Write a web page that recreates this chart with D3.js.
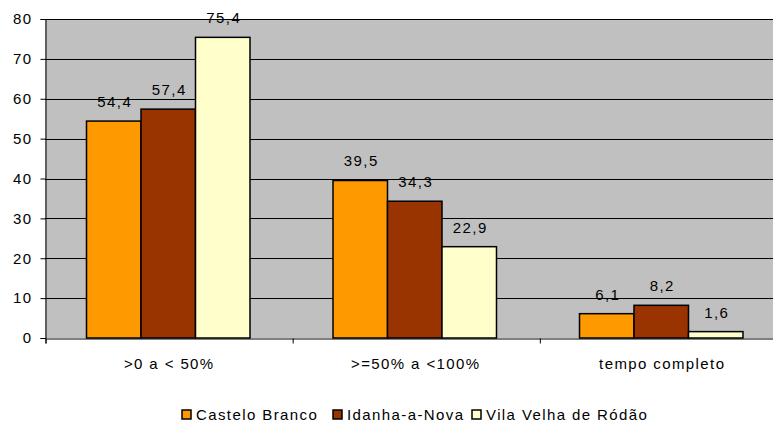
<!DOCTYPE html>
<html>
<head>
<meta charset="utf-8">
<script src="https://cdn.jsdelivr.net/npm/d3@7"></script>
<style>
  body { margin: 0; background: #fff; }
  text { font-family: "Liberation Sans", Arial, sans-serif; font-size: 15px; letter-spacing: 1.4px; fill: #000; }
</style>
</head>
<body>
<div id="chart"></div>
<script>
const categories = [">0 a < 50%", ">=50% a <100%", "tempo completo"];
const seriesNames = ["Castelo Branco", "Idanha-a-Nova", "Vila Velha de Ródão"];
const castelo = [54.4, 39.5, 6.1];
const idanha = [57.4, 34.3, 8.2];
const vilaVelha = [75.4, 22.9, 1.6];
const yTicks = [0, 10, 20, 30, 40, 50, 60, 70, 80];
const colours = ["#FF9900", "#993300", "#FFFFCC"];

const series = [castelo, idanha, vilaVelha];
const width = 773, height = 424;
const margin = {left: 45, top: 19};
const plotRight = 784.5;

const svg = d3.select("#chart").append("svg")
    .attr("width", width)
    .attr("height", height);

const x0 = d3.scaleBand().domain(categories).range([margin.left, plotRight]).padding(0);
const x1 = d3.scaleBand().domain(seriesNames)
    .range([x0.bandwidth() * 0.1684, x0.bandwidth() * (1 - 0.1684)]).padding(0);
const y = d3.scaleLinear().domain([0, 80]).range([338, margin.top]);

// plot background
svg.append("rect")
    .attr("x", margin.left).attr("y", y(80))
    .attr("width", plotRight - margin.left).attr("height", y(0) - y(80))
    .attr("fill", "#C0C0C0");

// gridlines
svg.append("g").selectAll("line")
    .data(yTicks.filter(d => d > 0))
    .join("line")
    .attr("x1", margin.left).attr("x2", plotRight)
    .attr("y1", d => Math.round(y(d)) + 0.5).attr("y2", d => Math.round(y(d)) + 0.5)
    .attr("stroke", "#000").attr("stroke-width", 1);

// bars
const groups = svg.append("g").selectAll("g")
    .data(categories)
    .join("g")
    .attr("transform", d => `translate(${x0(d)},0)`);

groups.selectAll("rect")
    .data((d, i) => seriesNames.map((s, j) => ({s, v: series[j][i], c: colours[j]})))
    .join("rect")
    .attr("x", d => x1(d.s))
    .attr("y", d => y(d.v))
    .attr("width", x1.bandwidth())
    .attr("height", d => y(0) - y(d.v))
    .attr("fill", d => d.c)
    .attr("stroke", "#000")
    .attr("stroke-width", 1.5);

groups.selectAll("text.label")
    .data((d, i) => seriesNames.map((s, j) => ({s, v: series[j][i]})))
    .join("text")
    .attr("class", "label")
    .attr("x", d => x1(d.s) + x1.bandwidth() / 2 + 1)
    .attr("y", d => y(d.v) - 14)
    .attr("text-anchor", "middle")
    .text(d => d3.format(".1f")(d.v).replace(".", ","));

// y axis
const yAxis = svg.append("g")
    .attr("transform", `translate(${margin.left + 0.5},0)`)
    .call(d3.axisLeft(y).tickValues(yTicks).tickSize(5).tickPadding(8));
yAxis.select(".domain").attr("stroke", "#000");
yAxis.selectAll("text").style("font-size", "15px").attr("fill", "#000");

// x axis
const xAxis = svg.append("g")
    .attr("transform", `translate(0,${Math.round(y(0)) + 0.5})`)
    .call(d3.axisBottom(d3.scaleLinear().domain([0, 3]).range([margin.left + 0.5, plotRight + 2.5]))
        .tickValues([0, 1, 2, 3]).tickSize(5).tickFormat(""));
xAxis.select(".domain").attr("stroke", "#000");

svg.append("g").selectAll("text")
    .data(categories)
    .join("text")
    .attr("x", d => x0(d) + x0.bandwidth() / 2 + 1)
    .attr("y", 369)
    .attr("text-anchor", "middle")
    .text(d => d);

// legend
const legendX = [182, 333, 472];
const legend = svg.append("g").selectAll("g")
    .data(seriesNames)
    .join("g")
    .attr("transform", (d, i) => `translate(${legendX[i]},410)`);
legend.append("rect")
    .attr("width", 9).attr("height", 9)
    .attr("fill", (d, i) => colours[i])
    .attr("stroke", "#000").attr("stroke-width", 1.5);
legend.append("text")
    .attr("x", 14).attr("y", 9.5)
    .text(d => d);
</script>
</body>
</html>
